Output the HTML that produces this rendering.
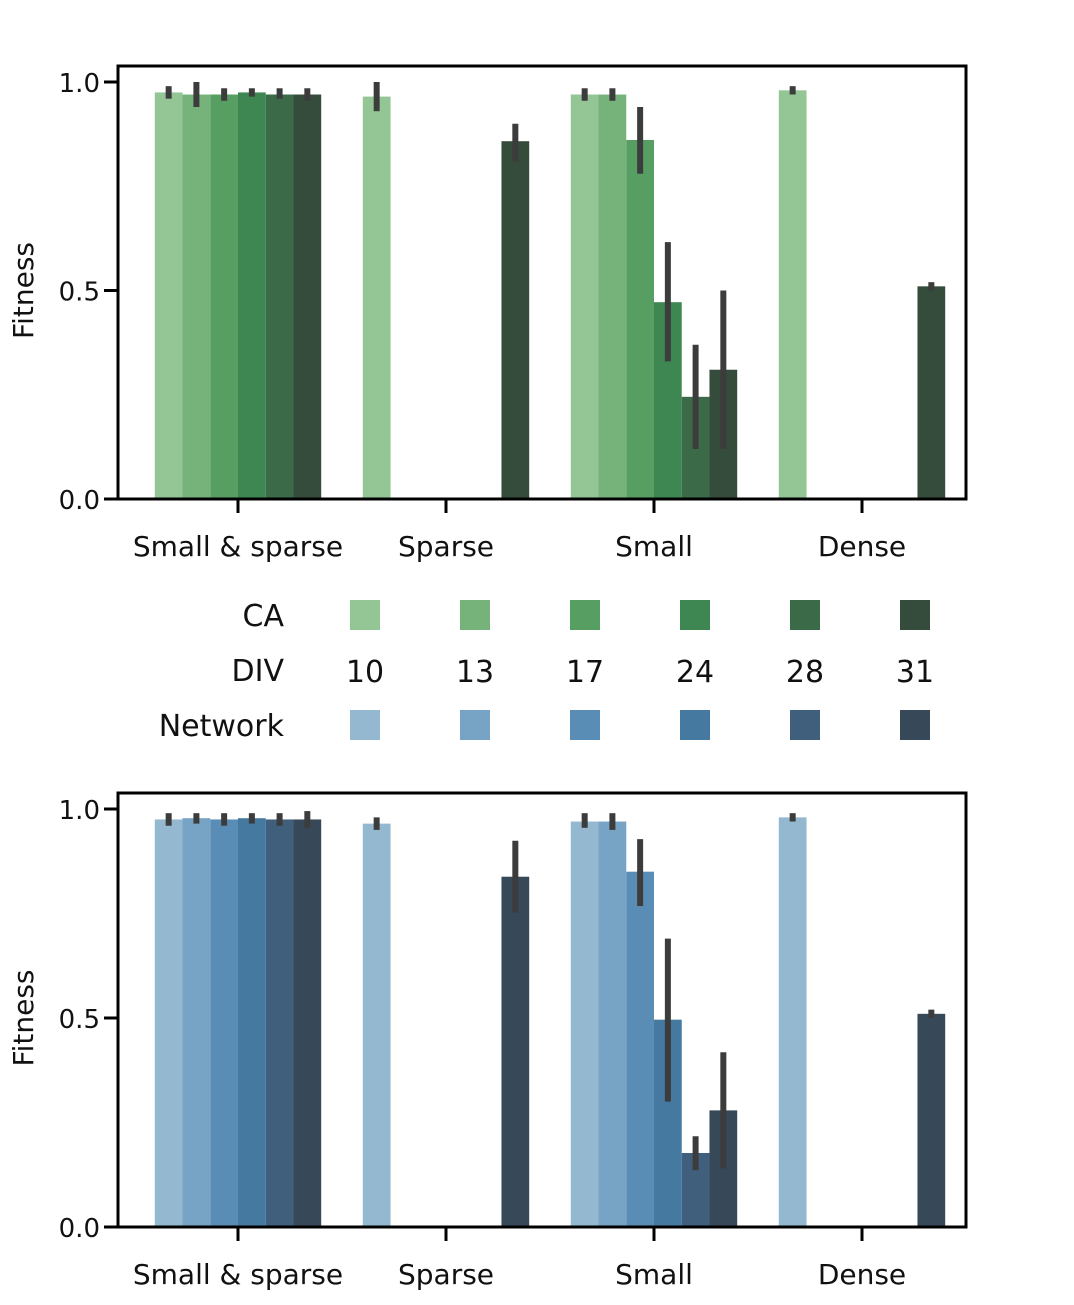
<!DOCTYPE html>
<html><head><meta charset="utf-8"><style>
body{margin:0;background:#fff;}
svg text{font-family:"DejaVu Sans","Liberation Sans",sans-serif;fill:#111;}
</style></head><body>
<svg id="svg" width="1074" height="1300" xmlns="http://www.w3.org/2000/svg"></svg>
<script>
const categories = ["Small & sparse","Sparse","Small","Dense"];
const divLabels = ["10","13","17","24","28","31"];
const yTicks = [0.0,0.5,1.0];
const caValues = [
 [0.975,0.97,0.97,0.975,0.97,0.97],
 [0.965,null,null,null,null,0.858],
 [0.97,0.97,0.861,0.472,0.245,0.31],
 [0.98,null,null,null,null,0.51]];
const caLow = [
 [0.96,0.94,0.955,0.965,0.96,0.955],
 [0.93,null,null,null,null,0.81],
 [0.955,0.955,0.78,0.33,0.12,0.12],
 [0.97,null,null,null,null,0.5]];
const caHigh = [
 [0.99,1.0,0.985,0.985,0.985,0.985],
 [1.0,null,null,null,null,0.90],
 [0.985,0.985,0.94,0.616,0.37,0.50],
 [0.99,null,null,null,null,0.52]];
const netValues = [
 [0.975,0.978,0.975,0.978,0.975,0.975],
 [0.965,null,null,null,null,0.838],
 [0.97,0.97,0.85,0.496,0.177,0.279],
 [0.98,null,null,null,null,0.51]];
const netLow = [
 [0.96,0.965,0.96,0.965,0.96,0.955],
 [0.95,null,null,null,null,0.752],
 [0.955,0.95,0.768,0.30,0.136,0.14],
 [0.97,null,null,null,null,0.5]];
const netHigh = [
 [0.99,0.99,0.99,0.99,0.99,0.995],
 [0.98,null,null,null,null,0.924],
 [0.99,0.99,0.928,0.69,0.217,0.418],
 [0.99,null,null,null,null,0.52]];
const caColors=["#93c595","#76b37b","#579e63","#3f8752","#3a6a48","#354c3c"];
const netColors=["#95b8d1","#77a3c4","#5a8db5","#46799f","#3f5f7d","#374858"];
const NS="http://www.w3.org/2000/svg";
const svg=document.getElementById('svg');
function mk(t,a,p){const e=document.createElementNS(NS,t);for(const k in a)e.setAttribute(k,a[k]);(p||svg).appendChild(e);return e;}
function chart(top,bottom,vals,lo,hi,colors,name){
 const g=mk('g',{});
 
 
 const x0=118,x1=966,y0=top+16,y1=bottom;
 const yS=v=>y1-(y1-y0)*v;
 const xC=i=>238+208*i;
 const bw=208*0.8/6;
 vals.forEach((grp,gi)=>grp.forEach((v,bi)=>{
  if(v===null)return;
  const x=xC(gi)-104*0.8+bw*bi;
  const r=mk('rect',{x:x,y:yS(v),width:bw,height:y1-yS(v),fill:colors[bi]},g);
  
  
 }));
 vals.forEach((grp,gi)=>grp.forEach((v,bi)=>{
  if(v===null)return;
  const x=xC(gi)-104*0.8+bw*(bi+0.5);
  const l=mk('line',{x1:x,x2:x,y1:yS(lo[gi][bi]),y2:yS(hi[gi][bi]),stroke:'#3c3c3c','stroke-width':6},g);
  
  
 }));
 const f=mk('rect',{x:x0,y:top,width:x1-x0,height:bottom-top,fill:'none',stroke:'#000','stroke-width':3},g);
 
 
 yTicks.forEach(t=>{
  mk('line',{x1:x0-14,x2:x0,y1:yS(t),y2:yS(t),stroke:'#000','stroke-width':3},g);
  const tx=mk('text',{x:x0-18,y:yS(t)+10,'text-anchor':'end','font-size':26},g);
  tx.textContent=t.toFixed(1);
  
  
 });
 categories.forEach((c,i)=>{
  mk('line',{x1:xC(i),x2:xC(i),y1:y1,y2:y1+14,stroke:'#000','stroke-width':3},g);
  const tx=mk('text',{x:xC(i),y:y1+57,'text-anchor':'middle','font-size':28},g);
  tx.textContent=c;
  
  
 });
 const cy=(y0+y1)/2;
 const yl=mk('text',{x:33,y:cy,'text-anchor':'middle','font-size':28,transform:`rotate(-90 33 ${cy})`},g);
 yl.textContent='Fitness';
 
 
}
chart(66,499,caValues,caLow,caHigh,caColors,'ca-chart');
chart(793,1227,netValues,netLow,netHigh,netColors,'network-chart');
const lg=mk('g',{});


[['CA',626],['DIV',681],['Network',736]].forEach(([t,y])=>{
 const tx=mk('text',{x:284,y:y,'text-anchor':'end','font-size':30},lg);
 tx.textContent=t;
 
 
});
divLabels.forEach((d,i)=>{
 const cx=365+110*i;
 const a=mk('rect',{x:cx-15,y:600,width:30,height:30,fill:caColors[i]},lg);
 
 
 const tx=mk('text',{x:cx,y:682,'text-anchor':'middle','font-size':30},lg);
 tx.textContent=d;
 
 
 const b=mk('rect',{x:cx-15,y:710,width:30,height:30,fill:netColors[i]},lg);
 
 
});
</script>
</body></html>
